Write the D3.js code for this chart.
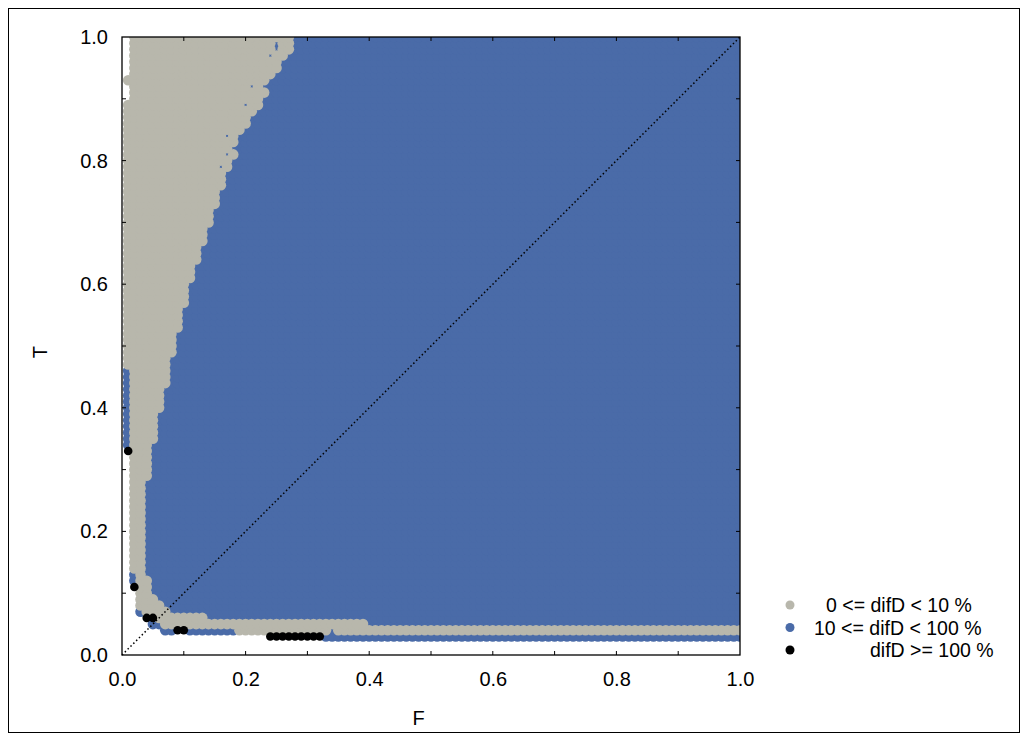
<!DOCTYPE html>
<html><head><meta charset="utf-8">
<script src="https://cdn.jsdelivr.net/npm/d3@7"></script>
<style>body{margin:0;background:#fff} text{font-family:Arial,"Liberation Sans",sans-serif;fill:#000}</style>
</head><body><svg id="c" width="1027" height="740"></svg>
<script>
// ---------- data ----------
const categories = ["0 <= difD < 10 %", "10 <= difD < 100 %", "difD >= 100 %"];
const categoryColors = ["#b8b7ac", "#4a6ba8", "#000000"];
const xTickLabels = [0, 0.2, 0.4, 0.6, 0.8, 1.0];
const yTickLabels = [0, 0.2, 0.4, 0.6, 0.8, 1.0];
const minorTicks = [0.1, 0.2, 0.3, 0.4, 0.5, 0.6, 0.7, 0.8, 0.9];
// grid of evaluated (F,T) points, step 0.01
const gridF = d3.range(1, 101).map(i => i / 100);
const gridT = d3.range(3, 101).map(i => i / 100);
// gray region per row: [T, first F, last F]
const grayRows = [
 [1.00,0.02,0.27],[0.99,0.02,0.27],[0.98,0.02,0.27],[0.97,0.02,0.26],[0.96,0.02,0.25],
 [0.95,0.02,0.25],[0.94,0.02,0.24],[0.93,0.01,0.23],[0.92,0.02,0.22],[0.91,0.02,0.23],
 [0.90,0.02,0.22],[0.89,0.01,0.22],[0.88,0.01,0.21],[0.87,0.01,0.20],[0.86,0.01,0.20],
 [0.85,0.01,0.19],[0.84,0.01,0.18],[0.83,0.01,0.18],[0.82,0.01,0.17],[0.81,0.01,0.18],
 [0.80,0.01,0.17],[0.79,0.01,0.17],[0.78,0.01,0.16],[0.77,0.01,0.16],[0.76,0.01,0.16],
 [0.75,0.01,0.15],[0.74,0.01,0.15],[0.73,0.01,0.15],[0.72,0.01,0.14],[0.71,0.01,0.14],
 [0.70,0.01,0.14],[0.69,0.01,0.13],[0.68,0.01,0.13],[0.67,0.01,0.13],[0.66,0.01,0.12],
 [0.65,0.01,0.12],[0.64,0.01,0.12],[0.63,0.01,0.11],[0.62,0.01,0.11],[0.61,0.01,0.11],
 [0.60,0.01,0.10],[0.59,0.01,0.10],[0.58,0.01,0.10],[0.57,0.01,0.10],[0.56,0.01,0.09],
 [0.55,0.01,0.09],[0.54,0.01,0.09],[0.53,0.01,0.09],[0.52,0.01,0.08],[0.51,0.01,0.08],
 [0.50,0.01,0.08],[0.49,0.01,0.08],[0.48,0.01,0.07],[0.47,0.01,0.07],[0.46,0.02,0.07],
 [0.45,0.02,0.07],[0.44,0.02,0.07],[0.43,0.02,0.06],[0.42,0.02,0.06],[0.41,0.02,0.06],
 [0.40,0.02,0.06],[0.39,0.02,0.05],[0.38,0.02,0.05],[0.37,0.02,0.05],[0.36,0.02,0.05],
 [0.35,0.02,0.05],[0.34,0.02,0.04],[0.33,0.02,0.04],[0.32,0.02,0.04],[0.31,0.02,0.04],
 [0.30,0.02,0.04],[0.29,0.02,0.04],[0.28,0.02,0.03],[0.27,0.02,0.03],[0.26,0.02,0.03],
 [0.25,0.02,0.03],[0.24,0.02,0.03],[0.23,0.02,0.03],[0.22,0.02,0.03],[0.21,0.02,0.03],
 [0.20,0.02,0.03],[0.19,0.02,0.03],[0.18,0.02,0.03],[0.17,0.02,0.03],[0.16,0.02,0.03],
 [0.15,0.02,0.03],[0.14,0.02,0.03],[0.13,0.03,0.03],[0.12,0.03,0.04],[0.11,0.03,0.04],
 [0.10,0.03,0.04],[0.09,0.03,0.05],[0.08,0.03,0.06],[0.07,0.04,0.07],[0.06,0.06,0.13],
 [0.05,0.07,0.39],[0.04,0.19,0.33],[0.04,0.35,1.00]
];
// blue fingers inside the gray region: [T, first F, last F]
const blueRuns = [
 [0.99,0.25,0.25],[0.98,0.25,0.25],[0.97,0.24,0.24],[0.92,0.21,0.21],[0.89,0.20,0.20],
 [0.84,0.17,0.17],[0.81,0.17,0.17],[0.79,0.16,0.16]
];
// grid points without a result: [T, first F, last F]
const emptyRuns = [
 [1.00,0.01,0.01],[0.99,0.01,0.01],[0.98,0.01,0.01],[0.97,0.01,0.01],[0.96,0.01,0.01],
 [0.95,0.01,0.01],[0.94,0.01,0.01],[0.92,0.01,0.01],[0.91,0.01,0.01],[0.90,0.01,0.01],
 [0.32,0.01,0.01],[0.31,0.01,0.01],[0.30,0.01,0.01],[0.29,0.01,0.01],[0.28,0.01,0.01],
 [0.27,0.01,0.01],[0.26,0.01,0.01],[0.25,0.01,0.01],[0.24,0.01,0.01],[0.23,0.01,0.01],
 [0.22,0.01,0.01],[0.21,0.01,0.01],[0.20,0.01,0.01],[0.19,0.01,0.01],[0.18,0.01,0.01],
 [0.17,0.01,0.01],[0.16,0.01,0.01],[0.15,0.01,0.01],[0.14,0.01,0.01],[0.13,0.01,0.01],
 [0.12,0.01,0.01],[0.11,0.01,0.01],[0.10,0.01,0.02],[0.09,0.01,0.02],[0.08,0.01,0.02],
 [0.07,0.01,0.02],[0.06,0.01,0.03],[0.05,0.01,0.04],[0.04,0.01,0.06],[0.03,0.01,0.23]
];
// difD >= 100 % points: [F, T]
const blackDots = [
 [0.01,0.33],[0.02,0.11],[0.04,0.06],[0.05,0.06],[0.09,0.04],[0.10,0.04],
 [0.24,0.03],[0.25,0.03],[0.26,0.03],[0.27,0.03],[0.28,0.03],[0.29,0.03],
 [0.30,0.03],[0.31,0.03],[0.32,0.03]
];

// ---------- layout ----------
const svg = d3.select("#c");
const m = {l:122, t:37, w:618, h:618};
const x = d3.scaleLinear().domain([0,1]).range([m.l, m.l + m.w]);
const y = d3.scaleLinear().domain([0,1]).range([m.t + m.h, m.t]);
const near = (a,b) => Math.abs(a-b) < 1e-6;
const inRun = (f,t,r) => near(r[0],t) && f >= r[1]-1e-6 && f <= r[2]+1e-6;

svg.append("rect").attr("x",8.5).attr("y",8.5).attr("width",1011).attr("height",724)
  .attr("fill","none").attr("stroke","#000").attr("stroke-width",1);

svg.append("defs").append("clipPath").attr("id","pc").append("rect")
  .attr("x",m.l).attr("y",m.t).attr("width",m.w).attr("height",m.h);

// classify grid
const cells = [];
gridT.forEach(t => gridF.forEach(f => {
  let c = 1;
  if (grayRows.some(r => inRun(f,t,r))) c = 0;
  if (blueRuns.some(r => inRun(f,t,r))) c = 1;
  if (emptyRuns.some(r => inRun(f,t,r))) c = -1;
  if (blackDots.some(d => near(d[0],f) && near(d[1],t))) c = 2;
  if (c >= 0) cells.push({f, t, c});
}));

const plot = svg.append("g").attr("clip-path","url(#pc)");
[1,0,2].forEach(c => {
  plot.selectAll(null).data(cells.filter(d => d.c === c)).enter().append("circle")
    .attr("cx", d => x(d.f)).attr("cy", d => y(d.t)).attr("r", c === 2 ? 4.3 : 5.3)
    .attr("fill", categoryColors[c]);
});

// diagonal
svg.append("line").attr("x1",x(0)).attr("y1",y(0)).attr("x2",x(1)).attr("y2",y(1))
  .attr("stroke","#000").attr("stroke-width",1.5).attr("stroke-dasharray","1.5,2.5");

// frame
svg.append("rect").attr("x",m.l).attr("y",m.t).attr("width",m.w).attr("height",m.h)
  .attr("fill","none").attr("stroke","#000").attr("stroke-width",1.3);

// axes
const xa = d3.axisBottom(x).tickValues(xTickLabels).tickFormat(d3.format(".1f")).tickSize(0).tickPadding(17);
const ya = d3.axisLeft(y).tickValues(yTickLabels).tickFormat(d3.format(".1f")).tickSize(0).tickPadding(14);
const gx = svg.append("g").attr("transform",`translate(0,${m.t+m.h})`).call(xa);
const gy = svg.append("g").attr("transform",`translate(${m.l},0)`).call(ya);
[gx,gy].forEach(g => { g.select(".domain").remove(); g.selectAll("text").attr("font-size",20).attr("font-family","Arial, 'Liberation Sans', sans-serif"); });
// inner minor ticks
const tk = svg.append("g").attr("stroke","#000").attr("stroke-width",1);
minorTicks.forEach(v => {
  tk.append("line").attr("x1",x(v)).attr("x2",x(v)).attr("y1",m.t+m.h).attr("y2",m.t+m.h-4);
  tk.append("line").attr("x1",x(v)).attr("x2",x(v)).attr("y1",m.t).attr("y2",m.t+4);
  tk.append("line").attr("y1",y(v)).attr("y2",y(v)).attr("x1",m.l).attr("x2",m.l+4);
  tk.append("line").attr("y1",y(v)).attr("y2",y(v)).attr("x1",m.l+m.w).attr("x2",m.l+m.w-4);
});

// axis titles
svg.append("text").attr("x",x(0.48)).attr("y",725).attr("text-anchor","middle").attr("font-size",20).text("F");
svg.append("text").attr("transform",`translate(47,${y(0.49)}) rotate(-90)`).attr("text-anchor","middle").attr("font-size",20).text("T");

// legend
const lg = svg.append("g");
const legendDx = [36, 24, 80];
categories.forEach((name,i) => {
  const yy = 605 + i*22.5;
  lg.append("circle").attr("cx",790).attr("cy",yy).attr("r",4.5).attr("fill",categoryColors[i]);
  lg.append("text").attr("x",790 + legendDx[i]).attr("y",yy+7).attr("font-size",19.5).text(name);
});
</script></body></html>
